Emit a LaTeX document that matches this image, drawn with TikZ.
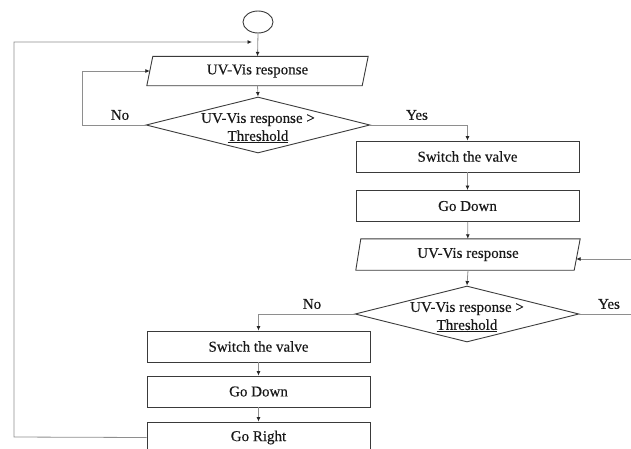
\documentclass[tikz,border=0pt]{standalone}
\usepackage{fontspec}
\setmainfont{Liberation Serif}[FakeBold=0.35]
\usetikzlibrary{shapes.geometric,arrows.meta}
\definecolor{boxline}{HTML}{3A3A3A}
\definecolor{connline}{HTML}{8E8E8E}
\tikzset{
  x=1pt,y=-1pt,
  every node/.style={font=\fontsize{15}{18}\selectfont, text=black!90},
  procbox/.style={draw=boxline, line width=0.9pt, rectangle, minimum width=223pt, minimum height=31pt, inner sep=0pt},
  iobox/.style={rectangle, minimum height=29pt, inner sep=0pt},
  ioline/.style={draw=boxline, line width=0.9pt},
  decbox/.style={draw=boxline, line width=0.9pt, diamond, minimum width=224pt, minimum height=56pt, inner sep=0pt},
  termbox/.style={draw=boxline, line width=0.9pt, ellipse, minimum width=30pt, minimum height=22pt, inner sep=0pt},
  conn/.style={draw=connline, line width=0.8pt, -{Latex[length=4.5pt,width=4pt,color=black!85]}},
  plainconn/.style={draw=connline, line width=0.8pt},
  lbl/.style={inner sep=0pt},
}
\begin{document}
\begin{tikzpicture}
\useasboundingbox (0,0) rectangle (631,448);
% nodes
\node[termbox] (start) at (258,22) {};
\node[iobox, minimum width=221pt] (uv1) at (257.5,71) {UV-Vis response};
\draw[ioline] ([xshift=6pt]uv1.north west) -- (uv1.north east) -- ([xshift=-6pt]uv1.south east) -- (uv1.south west) -- cycle;
\node[decbox] (d1) at (258,125) {};
\node[lbl, align=center] (d1t) at (258,128) {UV-Vis response >\\\underline{Threshold}};
\node[procbox] (sv2) at (467.5,156.5) {Switch the valve};
\node[procbox] (gd2) at (467.5,206) {Go Down};
\node[iobox, minimum width=224pt, minimum height=31pt] (uv2) at (468,254.5) {UV-Vis response};
\draw[ioline] ([xshift=5pt]uv2.north west) -- (uv2.north east) -- ([xshift=-6pt]uv2.south east) -- (uv2.south west) -- cycle;
\node[decbox] (d2) at (467,314) {};
\node[lbl, align=center] (d2t) at (467,317) {UV-Vis response >\\\underline{Threshold}};
\node[procbox] (sv1) at (258.5,346.5) {Switch the valve};
\node[procbox] (gd1) at (258.5,391.5) {Go Down};
\node[procbox] (gr1) at (258.5,437.5) {Go Right};
% labels
\node[lbl] (no1) at (120,115) {No};
\node[lbl] (yes1) at (417,115) {Yes};
\node[lbl] (no2) at (312,304) {No};
\node[lbl] (yes2) at (609,304) {Yes};
% coordinates
\coordinate (join) at (257,42);
\coordinate (rin) at (631,259);
\coordinate (rout) at (631,314);
\coordinate (lloop) at (14,437);
% connectors
\draw[conn] (start.south) -- (uv1.north);
\draw[conn] (uv1.south) -- (d1.north);
\draw[conn] (d1.west) -- (82,125) -- (82,71) -- ([xshift=3pt]uv1.west);
\draw[conn] (d1.east) -| (sv2.north);
\draw[conn] (sv2) -- (gd2);
\draw[conn] (gd2) -- (uv2);
\draw[conn] (rin) -- ([xshift=-4pt]rin -| uv2.east);
\draw[conn] (uv2.south) -- (d2.north);
\draw[plainconn] (d2.east) -- (rout);
\draw[conn] (d2.west) -| (sv1.north);
\draw[conn] (sv1) -- (gd1);
\draw[conn] (gd1) -- (gr1);
\draw[conn] (gr1.west) -- (lloop) |- ([xshift=-5pt]join);
\end{tikzpicture}
\end{document}
